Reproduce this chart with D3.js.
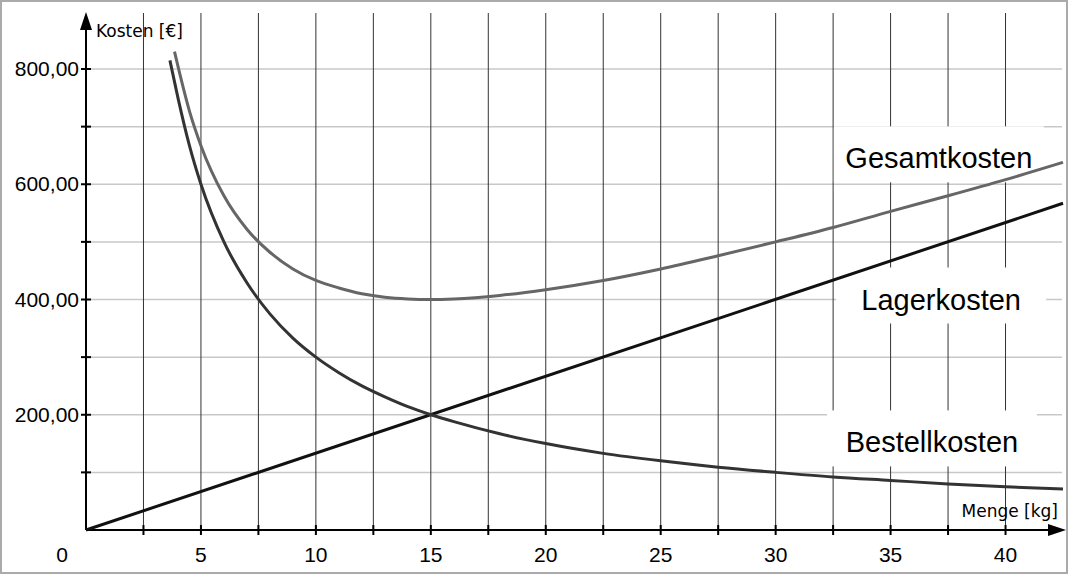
<!DOCTYPE html>
<html><head><meta charset="utf-8">
<script src="https://cdn.jsdelivr.net/npm/d3@7"></script>
<style>body{margin:0;background:#fff}svg{display:block}</style>
</head><body><div id="chart"></div>
<script>
// values
const bestellX = [3.65,4,4.5,5,6,7,8,9,10,11,12,13,14,15,16,18,20,22.5,25,27.5,30,32.5,35,37.5,40,42.5];
const bestellY = [815,750,667,600,500,429,375,333,300,273,250,231,214,200,188,167,150,133,120,109,100,92,86,80,75,71];
const gesamtX = [3.85,4.5,5,6,7,8,9,10,11,12,13,14,15,16,18,20,22.5,25,27.5,30,32.5,35,37.5,40,42.5];
const gesamtY = [830,727,667,580,522,482,453,433,420,410,404,401,400,401,407,417,433,453,476,500,525,553,580,608,638];
const lagerX = [0,42.5];
const lagerY = [0,567];
const xTicks = [5,10,15,20,25,30,35,40];
const yTicks = [200,400,600,800];
const labels = [{t:"Gesamtkosten",x:37.1,y:645},{t:"Lagerkosten",x:37.2,y:400},{t:"Bestellkosten",x:36.8,y:152}];

const W = 1070, H = 576;
const svg = d3.select("#chart").append("svg").attr("width", W).attr("height", H);
svg.append("rect").attr("x",1).attr("y",1).attr("width",W-4).attr("height",H-4)
  .attr("fill","#fff").attr("stroke","#aaa").attr("stroke-width",2);

const x = d3.scaleLinear().domain([0, 42.5]).range([86, 1063]);
const y = d3.scaleLinear().domain([0, 800]).range([530, 69]);

// grid
svg.append("g").selectAll("line").data(d3.range(100, 900, 100)).join("line")
  .attr("x1", x(0)).attr("x2", 1062).attr("y1", d => y(d)).attr("y2", d => y(d))
  .attr("stroke", "#c8c8c8").attr("stroke-width", 1.5);
svg.append("g").selectAll("line").data(d3.range(2.5, 42.5, 2.5)).join("line")
  .attr("x1", d => x(d)).attr("x2", d => x(d)).attr("y1", 13).attr("y2", y(0))
  .attr("stroke", "#333").attr("stroke-width", 1);

// label backgrounds
labels.forEach(l => {
  svg.append("rect").attr("x", x(l.x) - 105).attr("y", y(l.y) - 32)
    .attr("width", 210).attr("height", 56).attr("fill", "#fff");
});

// axes
svg.append("line").attr("x1", x(0)).attr("x2", x(0)).attr("y1", y(0)).attr("y2", 28)
  .attr("stroke", "#000").attr("stroke-width", 2);
svg.append("path").attr("d", `M${x(0)-6},30 L${x(0)},12 L${x(0)+6},30Z`).attr("fill", "#000");
svg.append("line").attr("x1", x(0)).attr("x2", 1050).attr("y1", y(0)).attr("y2", y(0))
  .attr("stroke", "#000").attr("stroke-width", 2);
svg.append("path").attr("d", `M1048,${y(0)-6} L1066,${y(0)} L1048,${y(0)+6}Z`).attr("fill", "#000");

svg.append("g").selectAll("line").data(d3.range(2.5, 42.5, 2.5)).join("line")
  .attr("x1", d => x(d)).attr("x2", d => x(d)).attr("y1", y(0) - 5).attr("y2", y(0) + 5)
  .attr("stroke", "#000").attr("stroke-width", 2);
svg.append("g").selectAll("line").data(d3.range(100, 900, 100)).join("line")
  .attr("x1", x(0) - 5).attr("x2", x(0) + 5).attr("y1", d => y(d)).attr("y2", d => y(d))
  .attr("stroke", "#000").attr("stroke-width", 2);

const font = "Liberation Sans, Arial, sans-serif";
svg.append("g").selectAll("text").data(xTicks).join("text")
  .attr("x", d => x(d)).attr("y", 562).attr("text-anchor", "middle")
  .attr("font-family", font).attr("font-size", 21).text(d => d);
svg.append("text").attr("x", 62).attr("y", 562).attr("text-anchor", "middle")
  .attr("font-family", font).attr("font-size", 21).text("0");
svg.append("g").selectAll("text").data(yTicks).join("text")
  .attr("x", x(0) - 7).attr("y", d => y(d) + 7).attr("text-anchor", "end")
  .attr("font-family", font).attr("font-size", 21)
  .text(d => d3.format(".2f")(d).replace(".", ","));
svg.append("text").attr("x", 96).attr("y", 37).attr("font-family", "DejaVu Sans, sans-serif")
  .attr("font-size", 17).text("Kosten [€]");
svg.append("text").attr("x", 1058).attr("y", 517).attr("text-anchor", "end")
  .attr("font-family", "DejaVu Sans, sans-serif").attr("font-size", 17).text("Menge [kg]");

// curves
const line = d3.line().x(d => x(d[0])).y(d => y(d[1])).curve(d3.curveMonotoneX);
svg.append("path").datum(d3.zip(lagerX, lagerY)).attr("d", line)
  .attr("fill", "none").attr("stroke", "#111").attr("stroke-width", 3);
svg.append("path").datum(d3.zip(bestellX, bestellY)).attr("d", line)
  .attr("fill", "none").attr("stroke", "#333").attr("stroke-width", 3);
svg.append("path").datum(d3.zip(gesamtX, gesamtY)).attr("d", line)
  .attr("fill", "none").attr("stroke", "#666").attr("stroke-width", 3);

// series labels
labels.forEach(l => {
  svg.append("text").attr("x", x(l.x)).attr("y", y(l.y) + 10).attr("text-anchor", "middle")
    .attr("font-family", font).attr("font-size", 29).text(l.t);
});
</script></body></html>
